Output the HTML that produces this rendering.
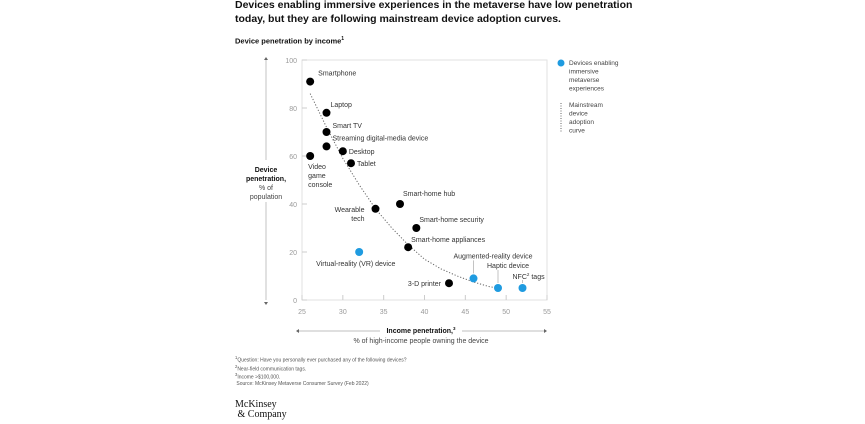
<!DOCTYPE html>
<html><head><meta charset="utf-8">
<style>
body{margin:0;background:#fff;font-family:"Liberation Sans",sans-serif;}
#wrap{position:relative;width:865px;height:424px;overflow:hidden;}
.t{position:absolute;white-space:nowrap;color:#222;}
svg text{font-family:"Liberation Sans",sans-serif;}
</style></head><body>
<div id="wrap">
<div class="t" style="left:235px;top:-1px;font-size:10.5px;font-weight:bold;line-height:13.5px;color:#111">Devices enabling immersive experiences in the metaverse have low penetration<br>today, but they are following mainstream device adoption curves.</div>
<div class="t" style="left:235px;top:36px;font-size:7.5px;font-weight:bold;color:#111">Device penetration by income<sup style="font-size:5px">1</sup></div>
<svg id="chart" width="865" height="424" style="position:absolute;left:0;top:0"></svg>
<div class="t" style="left:235px;top:355px;font-size:5px;line-height:6px;color:#555"><sup>1</sup>Question: Have you personally ever purchased any of the following devices?<br><sup>2</sup>Near-field communication tags.<br><sup>3</sup>Income &gt;$100,000.<br>&nbsp;Source: McKinsey Metaverse Consumer Survey (Feb 2022)</div>
<div class="t" style="left:235px;top:400px;font-family:'Liberation Serif',serif;font-size:10px;line-height:10px;color:#111">McKinsey<br>&nbsp;&amp; Company</div>
</div>
<script>
const labels=["Smartphone","Laptop","Smart TV","Streaming digital-media device","Desktop","Tablet","Video game console","Wearable tech","Smart-home hub","Smart-home security","Smart-home appliances","Virtual-reality (VR) device","3-D printer","Augmented-reality device","Haptic device","NFC tags"];
const xVals=[26,28,28,28,30,31,26,34,37,39,38,32,43,46,49,52];
const yVals=[91,78,70,64,62,57,60,38,40,30,22,20,7,9,5,5];
const immersive=[0,0,0,0,0,0,0,0,0,0,0,1,0,1,1,1];
const curveX=[26,28,30,32,34,36,38,40,42,44,46,48,49];
const curveY=[86,72,59,48,38,30,23,17,13,10,7.5,5.5,5];
const xTicks=[25,30,35,40,45,50,55];
const yTicks=[0,20,40,60,80,100];
const NS="http://www.w3.org/2000/svg";
const svg=document.getElementById('chart');
const x=v=>302+(v-25)/30*245;
const y=v=>300-v/100*240;
function mk(t,a,p){const e=document.createElementNS(NS,t);for(const k in a)e.setAttribute(k,a[k]);(p||svg).appendChild(e);return e;}
function tx(s,xx,yy,a){const e=mk('text',Object.assign({x:xx,y:yy,'font-size':7,fill:'#333'},a||{}));e.textContent=s;return e;}
let f=mk('rect',{x:x(25),y:y(100),width:x(55)-x(25),height:y(0)-y(100),fill:'none',stroke:'#e2e2e2','stroke-width':1});

xTicks.forEach(v=>{mk('line',{x1:x(v),x2:x(v),y1:y(0),y2:y(0)-5,stroke:'#ccc'});
 let t=tx(v,x(v),314,{'text-anchor':'middle',fill:'#999','font-size':7});
 });
yTicks.forEach(v=>{mk('line',{x1:x(25),x2:x(25)+5,y1:y(v),y2:y(v),stroke:'#ccc'});
 let t=tx(v,297,y(v)+3,{'text-anchor':'end',fill:'#999','font-size':7});
 });
let d=curveX.map((v,i)=>(i?'L':'M')+x(v)+','+y(curveY[i])).join('');
let c=mk('path',{d:d,fill:'none',stroke:'#666','stroke-width':1,'stroke-dasharray':'1.2,1.8'});

const off={"Smartphone":[8,-6,'start'],"Laptop":[4,-6,'start'],"Smart TV":[6,-4,'start'],"Streaming digital-media device":[6,-6,'start'],"Desktop":[6,3,'start'],"Tablet":[6,3,'start'],"Wearable tech":[-11,3,'end'],"Smart-home hub":[3,-8,'start'],"Smart-home security":[3,-6,'start'],"Smart-home appliances":[3,-5,'start'],"Virtual-reality (VR) device":[-43,14,'start'],"3-D printer":[-8,3,'end'],"Augmented-reality device":[-20,-20,'start'],"Haptic device":[-11,-20,'start'],"NFC tags":[-10,-9,'start']};
const lead={"Augmented-reality device":17,"Haptic device":17,"NFC tags":7};
labels.forEach((l,i)=>{
 let p=mk('circle',{cx:x(xVals[i]),cy:y(yVals[i]),r:4,fill:immersive[i]?'#1f9be0':'#000'});
 
 
 if(l==="Video game console"){
  ["Video","game","console"].forEach((w,k)=>tx(w,x(xVals[i])-2,y(yVals[i])+13+k*9));return;}
 if(l==="Wearable tech"){tx("Wearable",x(xVals[i])-11,y(yVals[i])+3,{'text-anchor':'end'});tx("tech",x(xVals[i])-11,y(yVals[i])+12,{'text-anchor':'end'});return;}
 const o=off[l];
 let t=tx(l==="NFC tags"?"NFC":l,x(xVals[i])+o[0],y(yVals[i])+o[1],{'text-anchor':o[2]});
 if(l==="NFC tags"){let s=mk('tspan',{'font-size':4.5,dy:-3},t);s.textContent='2';let s2=mk('tspan',{dy:3},t);s2.textContent=' tags';}
 
 if(lead[l])mk('line',{x1:x(xVals[i]),x2:x(xVals[i]),y1:y(yVals[i])-5,y2:y(yVals[i])-5-lead[l]+4,stroke:'#aaa','stroke-width':0.7});
});
mk('line',{x1:266,x2:266,y1:60,y2:160,stroke:'#aaa','stroke-width':0.7});
mk('line',{x1:266,x2:266,y1:202,y2:300,stroke:'#aaa','stroke-width':0.7});
mk('path',{d:'M264,302L268,302L266,305Z',fill:'#666'});
mk('path',{d:'M264,60L268,60L266,57Z',fill:'#666'});
[["Device",172,'bold'],["penetration,",181,'bold'],["% of",190,'normal'],["population",199,'normal']].forEach(a=>tx(a[0],266,a[1],{'text-anchor':'middle','font-weight':a[2],fill:a[2]=='bold'?'#111':'#444'}));
mk('line',{x1:298,x2:380,y1:331,y2:331,stroke:'#aaa','stroke-width':0.7});
mk('line',{x1:462,x2:545,y1:331,y2:331,stroke:'#aaa','stroke-width':0.7});
mk('path',{d:'M296,331L299,329L299,333Z',fill:'#666'});
mk('path',{d:'M547,331L544,329L544,333Z',fill:'#666'});
let xt=tx("Income penetration,",421,333,{'text-anchor':'middle','font-weight':'bold',fill:'#111'});
let sp=mk('tspan',{'font-size':4.5,dy:-3},xt);sp.textContent='3';
tx("% of high-income people owning the device",421,343,{'text-anchor':'middle',fill:'#444'});
let lg=mk('circle',{cx:561,cy:63,r:3.5,fill:'#1f9be0'});

["Devices enabling","immersive","metaverse","experiences"].forEach((w,k)=>tx(w,569,65+k*8.5,{'font-size':6.5,fill:'#444'}));
mk('line',{x1:561,x2:561,y1:103,y2:133,stroke:'#666','stroke-dasharray':'1,1.5'});
["Mainstream","device","adoption","curve"].forEach((w,k)=>tx(w,569,107+k*8.5,{'font-size':6.5,fill:'#444'}));
</script>
</body></html>
